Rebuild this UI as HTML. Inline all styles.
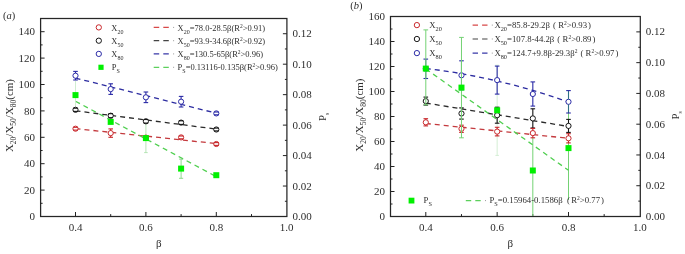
<!DOCTYPE html><html><head><meta charset="utf-8"><style>html,body{margin:0;padding:0;background:#fff;overflow:hidden;}svg{display:block;font-family:'Liberation Serif', serif;filter:blur(0.35px);}</style></head><body>
<svg width="685" height="254" viewBox="0 0 685 254" fill="#2e2e2e">
<rect x="40.6" y="18.5" width="246.3" height="198" fill="none" stroke="#262626" stroke-width="1.25"/>
<line x1="40.6" y1="203.3" x2="42.6" y2="203.3" stroke="#222" stroke-width="1"/>
<line x1="40.6" y1="190.1" x2="44.6" y2="190.1" stroke="#222" stroke-width="1"/>
<line x1="40.6" y1="176.9" x2="42.6" y2="176.9" stroke="#222" stroke-width="1"/>
<line x1="40.6" y1="163.7" x2="44.6" y2="163.7" stroke="#222" stroke-width="1"/>
<line x1="40.6" y1="150.5" x2="42.6" y2="150.5" stroke="#222" stroke-width="1"/>
<line x1="40.6" y1="137.3" x2="44.6" y2="137.3" stroke="#222" stroke-width="1"/>
<line x1="40.6" y1="124.1" x2="42.6" y2="124.1" stroke="#222" stroke-width="1"/>
<line x1="40.6" y1="110.9" x2="44.6" y2="110.9" stroke="#222" stroke-width="1"/>
<line x1="40.6" y1="97.7" x2="42.6" y2="97.7" stroke="#222" stroke-width="1"/>
<line x1="40.6" y1="84.5" x2="44.6" y2="84.5" stroke="#222" stroke-width="1"/>
<line x1="40.6" y1="71.3" x2="42.6" y2="71.3" stroke="#222" stroke-width="1"/>
<line x1="40.6" y1="58.1" x2="44.6" y2="58.1" stroke="#222" stroke-width="1"/>
<line x1="40.6" y1="44.9" x2="42.6" y2="44.9" stroke="#222" stroke-width="1"/>
<line x1="40.6" y1="31.7" x2="44.6" y2="31.7" stroke="#222" stroke-width="1"/>
<text x="35.1" y="220.1" text-anchor="end" font-size="11">0</text>
<text x="35.1" y="193.7" text-anchor="end" font-size="11">20</text>
<text x="35.1" y="167.3" text-anchor="end" font-size="11">40</text>
<text x="35.1" y="140.9" text-anchor="end" font-size="11">60</text>
<text x="35.1" y="114.5" text-anchor="end" font-size="11">80</text>
<text x="35.1" y="88.1" text-anchor="end" font-size="11">100</text>
<text x="35.1" y="61.7" text-anchor="end" font-size="11">120</text>
<text x="35.1" y="35.3" text-anchor="end" font-size="11">140</text>
<line x1="286.9" y1="201.27" x2="284.9" y2="201.27" stroke="#222" stroke-width="1"/>
<line x1="286.9" y1="186.04" x2="282.9" y2="186.04" stroke="#222" stroke-width="1"/>
<line x1="286.9" y1="170.81" x2="284.9" y2="170.81" stroke="#222" stroke-width="1"/>
<line x1="286.9" y1="155.58" x2="282.9" y2="155.58" stroke="#222" stroke-width="1"/>
<line x1="286.9" y1="140.35" x2="284.9" y2="140.35" stroke="#222" stroke-width="1"/>
<line x1="286.9" y1="125.12" x2="282.9" y2="125.12" stroke="#222" stroke-width="1"/>
<line x1="286.9" y1="109.88" x2="284.9" y2="109.88" stroke="#222" stroke-width="1"/>
<line x1="286.9" y1="94.65" x2="282.9" y2="94.65" stroke="#222" stroke-width="1"/>
<line x1="286.9" y1="79.42" x2="284.9" y2="79.42" stroke="#222" stroke-width="1"/>
<line x1="286.9" y1="64.19" x2="282.9" y2="64.19" stroke="#222" stroke-width="1"/>
<line x1="286.9" y1="48.96" x2="284.9" y2="48.96" stroke="#222" stroke-width="1"/>
<line x1="286.9" y1="33.73" x2="282.9" y2="33.73" stroke="#222" stroke-width="1"/>
<text x="292.4" y="220.1" font-size="11">0.00</text>
<text x="292.4" y="189.64" font-size="11">0.02</text>
<text x="292.4" y="159.18" font-size="11">0.04</text>
<text x="292.4" y="128.72" font-size="11">0.06</text>
<text x="292.4" y="98.25" font-size="11">0.08</text>
<text x="292.4" y="67.79" font-size="11">0.10</text>
<text x="292.4" y="37.33" font-size="11">0.12</text>
<line x1="75.5" y1="216.5" x2="75.5" y2="212" stroke="#222" stroke-width="1"/>
<line x1="110.7" y1="216.5" x2="110.7" y2="214.1" stroke="#222" stroke-width="1"/>
<line x1="145.9" y1="216.5" x2="145.9" y2="212" stroke="#222" stroke-width="1"/>
<line x1="181.1" y1="216.5" x2="181.1" y2="214.1" stroke="#222" stroke-width="1"/>
<line x1="216.3" y1="216.5" x2="216.3" y2="212" stroke="#222" stroke-width="1"/>
<line x1="251.5" y1="216.5" x2="251.5" y2="214.1" stroke="#222" stroke-width="1"/>
<text x="75.5" y="230.5" text-anchor="middle" font-size="11">0.4</text>
<text x="145.9" y="230.5" text-anchor="middle" font-size="11">0.6</text>
<text x="216.3" y="230.5" text-anchor="middle" font-size="11">0.8</text>
<text x="286.7" y="230.5" text-anchor="middle" font-size="11">1.0</text>
<path d="M75.5 110.8 L216.3 129.1" fill="none" stroke="#2a2a2a" stroke-width="1.3" stroke-dasharray="5 4"/>
<path d="M75.5 128.6 L216.3 143.6" fill="none" stroke="#c43a3e" stroke-width="1.3" stroke-dasharray="5 4"/>
<path d="M75.5 78.1 L216.3 113.2" fill="none" stroke="#2c2ca0" stroke-width="1.3" stroke-dasharray="5 4"/>
<path d="M75.5 101.3 L216.3 176.6" fill="none" stroke="#4fcf4f" stroke-width="1.3" stroke-dasharray="5 4"/>
<line x1="75.5" y1="81" x2="75.5" y2="109" stroke="#c4eac4" stroke-width="0.8"/>
<line x1="145.9" y1="123" x2="145.9" y2="152.6" stroke="#a6dea6" stroke-width="0.8"/><line x1="144.1" y1="123" x2="147.7" y2="123" stroke="#a6dea6" stroke-width="0.8"/><line x1="144.1" y1="152.6" x2="147.7" y2="152.6" stroke="#a6dea6" stroke-width="0.8"/>
<line x1="181.1" y1="159.1" x2="181.1" y2="178.3" stroke="#74d274" stroke-width="0.8"/><line x1="179" y1="159.1" x2="183.2" y2="159.1" stroke="#74d274" stroke-width="0.8"/><line x1="179" y1="178.3" x2="183.2" y2="178.3" stroke="#74d274" stroke-width="0.8"/>
<circle cx="75.5" cy="75.7" r="2.6" fill="#fff" stroke="#2a2aa6" stroke-width="1"/><line x1="75.5" y1="71.4" x2="75.5" y2="73.1" stroke="#2a2aa6" stroke-width="1.1"/><line x1="75.5" y1="78.3" x2="75.5" y2="80" stroke="#2a2aa6" stroke-width="1.1"/><line x1="73.2" y1="71.4" x2="77.8" y2="71.4" stroke="#2a2aa6" stroke-width="1.1"/><line x1="73.2" y1="80" x2="77.8" y2="80" stroke="#2a2aa6" stroke-width="1.1"/>
<circle cx="110.7" cy="89.1" r="2.6" fill="#fff" stroke="#2a2aa6" stroke-width="1"/><line x1="110.7" y1="83.8" x2="110.7" y2="86.5" stroke="#2a2aa6" stroke-width="1.1"/><line x1="110.7" y1="91.7" x2="110.7" y2="94.4" stroke="#2a2aa6" stroke-width="1.1"/><line x1="108.4" y1="83.8" x2="113" y2="83.8" stroke="#2a2aa6" stroke-width="1.1"/><line x1="108.4" y1="94.4" x2="113" y2="94.4" stroke="#2a2aa6" stroke-width="1.1"/>
<circle cx="145.9" cy="97.3" r="2.6" fill="#fff" stroke="#2a2aa6" stroke-width="1"/><line x1="145.9" y1="92" x2="145.9" y2="94.7" stroke="#2a2aa6" stroke-width="1.1"/><line x1="145.9" y1="99.9" x2="145.9" y2="102.6" stroke="#2a2aa6" stroke-width="1.1"/><line x1="143.6" y1="92" x2="148.2" y2="92" stroke="#2a2aa6" stroke-width="1.1"/><line x1="143.6" y1="102.6" x2="148.2" y2="102.6" stroke="#2a2aa6" stroke-width="1.1"/>
<circle cx="181.1" cy="101.7" r="2.6" fill="#fff" stroke="#2a2aa6" stroke-width="1"/><line x1="181.1" y1="96.4" x2="181.1" y2="99.1" stroke="#2a2aa6" stroke-width="1.1"/><line x1="181.1" y1="104.3" x2="181.1" y2="107" stroke="#2a2aa6" stroke-width="1.1"/><line x1="178.8" y1="96.4" x2="183.4" y2="96.4" stroke="#2a2aa6" stroke-width="1.1"/><line x1="178.8" y1="107" x2="183.4" y2="107" stroke="#2a2aa6" stroke-width="1.1"/>
<circle cx="216.3" cy="113.4" r="2.6" fill="#fff" stroke="#2a2aa6" stroke-width="1"/><line x1="214" y1="112" x2="218.6" y2="112" stroke="#2a2aa6" stroke-width="1.1"/><line x1="214" y1="114.8" x2="218.6" y2="114.8" stroke="#2a2aa6" stroke-width="1.1"/>
<circle cx="75.5" cy="109.8" r="2.6" fill="#fff" stroke="#141414" stroke-width="1"/><line x1="73.2" y1="108.2" x2="77.8" y2="108.2" stroke="#141414" stroke-width="1.1"/><line x1="73.2" y1="111.4" x2="77.8" y2="111.4" stroke="#141414" stroke-width="1.1"/>
<circle cx="110.7" cy="115.7" r="2.6" fill="#fff" stroke="#141414" stroke-width="1"/><line x1="108.4" y1="113.7" x2="113" y2="113.7" stroke="#141414" stroke-width="1.1"/><line x1="108.4" y1="117.7" x2="113" y2="117.7" stroke="#141414" stroke-width="1.1"/>
<circle cx="145.9" cy="121.3" r="2.6" fill="#fff" stroke="#141414" stroke-width="1"/><line x1="143.6" y1="119.5" x2="148.2" y2="119.5" stroke="#141414" stroke-width="1.1"/><line x1="143.6" y1="123.1" x2="148.2" y2="123.1" stroke="#141414" stroke-width="1.1"/>
<circle cx="181.1" cy="122.6" r="2.6" fill="#fff" stroke="#141414" stroke-width="1"/><line x1="178.8" y1="120.8" x2="183.4" y2="120.8" stroke="#141414" stroke-width="1.1"/><line x1="178.8" y1="124.4" x2="183.4" y2="124.4" stroke="#141414" stroke-width="1.1"/>
<circle cx="216.3" cy="129.5" r="2.6" fill="#fff" stroke="#141414" stroke-width="1"/><line x1="214" y1="128.1" x2="218.6" y2="128.1" stroke="#141414" stroke-width="1.1"/><line x1="214" y1="130.9" x2="218.6" y2="130.9" stroke="#141414" stroke-width="1.1"/>
<circle cx="75.5" cy="128.7" r="2.6" fill="#fff" stroke="#c8262a" stroke-width="1"/><line x1="73.2" y1="127.3" x2="77.8" y2="127.3" stroke="#c8262a" stroke-width="1.1"/><line x1="73.2" y1="130.1" x2="77.8" y2="130.1" stroke="#c8262a" stroke-width="1.1"/>
<circle cx="110.7" cy="133.1" r="2.6" fill="#fff" stroke="#c8262a" stroke-width="1"/><line x1="110.7" y1="128.9" x2="110.7" y2="130.5" stroke="#c8262a" stroke-width="1.1"/><line x1="110.7" y1="135.7" x2="110.7" y2="137.3" stroke="#c8262a" stroke-width="1.1"/><line x1="108.4" y1="128.9" x2="113" y2="128.9" stroke="#c8262a" stroke-width="1.1"/><line x1="108.4" y1="137.3" x2="113" y2="137.3" stroke="#c8262a" stroke-width="1.1"/>
<circle cx="145.9" cy="137.6" r="2.6" fill="#fff" stroke="#c8262a" stroke-width="1"/><line x1="143.6" y1="136.1" x2="148.2" y2="136.1" stroke="#c8262a" stroke-width="1.1"/><line x1="143.6" y1="139.1" x2="148.2" y2="139.1" stroke="#c8262a" stroke-width="1.1"/>
<circle cx="181.1" cy="137.4" r="2.6" fill="#fff" stroke="#c8262a" stroke-width="1"/><line x1="178.8" y1="136" x2="183.4" y2="136" stroke="#c8262a" stroke-width="1.1"/><line x1="178.8" y1="138.8" x2="183.4" y2="138.8" stroke="#c8262a" stroke-width="1.1"/>
<circle cx="216.3" cy="144" r="2.6" fill="#fff" stroke="#c8262a" stroke-width="1"/><line x1="214" y1="142.6" x2="218.6" y2="142.6" stroke="#c8262a" stroke-width="1.1"/><line x1="214" y1="145.4" x2="218.6" y2="145.4" stroke="#c8262a" stroke-width="1.1"/>
<rect x="72.5" y="92.1" width="6" height="6" fill="#00f000"/>
<rect x="107.7" y="118.9" width="6" height="6" fill="#00f000"/>
<rect x="142.9" y="135.1" width="6" height="6" fill="#00f000"/>
<rect x="178.1" y="165.6" width="6" height="6" fill="#00f000"/>
<rect x="213.3" y="172.2" width="6" height="6" fill="#00f000"/>
<circle cx="98.8" cy="27.4" r="2.65" fill="#fff" stroke="#c8262a" stroke-width="1"/>
<circle cx="98.8" cy="40.7" r="2.65" fill="#fff" stroke="#141414" stroke-width="1"/>
<circle cx="98.8" cy="53.9" r="2.65" fill="#fff" stroke="#2a2aa6" stroke-width="1"/>
<rect x="98.4" y="64.7" width="5.2" height="5.2" fill="#00f000"/>
<text x="111.3" y="30.5" font-size="8.5">X<tspan font-size="6" baseline-shift="-2.8">20</tspan></text>
<text x="111.3" y="43.8" font-size="8.5">X<tspan font-size="6" baseline-shift="-2.8">50</tspan></text>
<text x="111.3" y="57.0" font-size="8.5">X<tspan font-size="6" baseline-shift="-2.8">80</tspan></text>
<text x="111.8" y="70.2" font-size="8.5">P<tspan font-size="6" baseline-shift="-2.8">S</tspan></text>
<line x1="153.7" y1="27.4" x2="169" y2="27.4" stroke="#d84848" stroke-width="1.2" stroke-dasharray="5.5 4.1"/>
<rect x="173.1" y="26.9" width="1" height="1" fill="#999"/>
<text x="177.6" y="30.5" font-size="8.5">X<tspan font-size="6" baseline-shift="-2.8">20</tspan>=78.0-28.5β(R<tspan font-size="5.5" baseline-shift="3.2">2</tspan>&gt;0.91)</text>
<line x1="153.7" y1="40.7" x2="169" y2="40.7" stroke="#444" stroke-width="1.2" stroke-dasharray="5.5 4.1"/>
<rect x="173.1" y="40.2" width="1" height="1" fill="#999"/>
<text x="177.6" y="43.8" font-size="8.5">X<tspan font-size="6" baseline-shift="-2.8">50</tspan>=93.9-34.6β(R<tspan font-size="5.5" baseline-shift="3.2">2</tspan>&gt;0.92)</text>
<line x1="153.7" y1="53.9" x2="169" y2="53.9" stroke="#3838a8" stroke-width="1.2" stroke-dasharray="5.5 4.1"/>
<rect x="173.1" y="53.4" width="1" height="1" fill="#999"/>
<text x="177.6" y="57.0" font-size="8.5">X<tspan font-size="6" baseline-shift="-2.8">80</tspan>=130.5-65β(R<tspan font-size="5.5" baseline-shift="3.2">2</tspan>&gt;0.96)</text>
<line x1="153.7" y1="67.3" x2="169" y2="67.3" stroke="#5cd05c" stroke-width="1.2" stroke-dasharray="5.5 4.1"/>
<rect x="173.1" y="66.8" width="1" height="1" fill="#999"/>
<text x="177.6" y="70.2" font-size="8.5">P<tspan font-size="6" baseline-shift="-2.8">S</tspan>=0.13116-0.135β(R<tspan font-size="5.5" baseline-shift="3.2">2</tspan>&gt;0.96)</text>
<text x="3" y="19.1" font-size="10.5">(<tspan font-style="italic">a</tspan>)</text>
<text transform="translate(13.3 115.6) rotate(-90)" text-anchor="middle" font-size="10.9">X<tspan font-size="7.6" dy="2.6">20</tspan><tspan dy="-2.6">/X</tspan><tspan font-size="7.6" dy="2.6">50</tspan><tspan dy="-2.6">/X</tspan><tspan font-size="7.6" dy="2.6">80</tspan><tspan dy="-2.6">(cm)</tspan></text>
<text transform="translate(326.3 121) rotate(-90)" font-size="10.9">P<tspan font-size="6" dy="2.5">s</tspan></text>
<text x="158.8" y="247" text-anchor="middle" font-size="11">β</text>
<rect x="390.5" y="16.5" width="249.8" height="200" fill="none" stroke="#262626" stroke-width="1.25"/>
<line x1="390.5" y1="204" x2="392.5" y2="204" stroke="#222" stroke-width="1"/>
<line x1="390.5" y1="191.5" x2="394.5" y2="191.5" stroke="#222" stroke-width="1"/>
<line x1="390.5" y1="179" x2="392.5" y2="179" stroke="#222" stroke-width="1"/>
<line x1="390.5" y1="166.5" x2="394.5" y2="166.5" stroke="#222" stroke-width="1"/>
<line x1="390.5" y1="154" x2="392.5" y2="154" stroke="#222" stroke-width="1"/>
<line x1="390.5" y1="141.5" x2="394.5" y2="141.5" stroke="#222" stroke-width="1"/>
<line x1="390.5" y1="129" x2="392.5" y2="129" stroke="#222" stroke-width="1"/>
<line x1="390.5" y1="116.5" x2="394.5" y2="116.5" stroke="#222" stroke-width="1"/>
<line x1="390.5" y1="104" x2="392.5" y2="104" stroke="#222" stroke-width="1"/>
<line x1="390.5" y1="91.5" x2="394.5" y2="91.5" stroke="#222" stroke-width="1"/>
<line x1="390.5" y1="79" x2="392.5" y2="79" stroke="#222" stroke-width="1"/>
<line x1="390.5" y1="66.5" x2="394.5" y2="66.5" stroke="#222" stroke-width="1"/>
<line x1="390.5" y1="54" x2="392.5" y2="54" stroke="#222" stroke-width="1"/>
<line x1="390.5" y1="41.5" x2="394.5" y2="41.5" stroke="#222" stroke-width="1"/>
<line x1="390.5" y1="29" x2="392.5" y2="29" stroke="#222" stroke-width="1"/>
<text x="385.0" y="220.1" text-anchor="end" font-size="11">0</text>
<text x="385.0" y="195.1" text-anchor="end" font-size="11">20</text>
<text x="385.0" y="170.1" text-anchor="end" font-size="11">40</text>
<text x="385.0" y="145.1" text-anchor="end" font-size="11">60</text>
<text x="385.0" y="120.1" text-anchor="end" font-size="11">80</text>
<text x="385.0" y="95.1" text-anchor="end" font-size="11">100</text>
<text x="385.0" y="70.1" text-anchor="end" font-size="11">120</text>
<text x="385.0" y="45.1" text-anchor="end" font-size="11">140</text>
<text x="385.0" y="20.1" text-anchor="end" font-size="11">160</text>
<line x1="640.3" y1="201.12" x2="638.3" y2="201.12" stroke="#222" stroke-width="1"/>
<line x1="640.3" y1="185.73" x2="636.3" y2="185.73" stroke="#222" stroke-width="1"/>
<line x1="640.3" y1="170.35" x2="638.3" y2="170.35" stroke="#222" stroke-width="1"/>
<line x1="640.3" y1="154.96" x2="636.3" y2="154.96" stroke="#222" stroke-width="1"/>
<line x1="640.3" y1="139.58" x2="638.3" y2="139.58" stroke="#222" stroke-width="1"/>
<line x1="640.3" y1="124.19" x2="636.3" y2="124.19" stroke="#222" stroke-width="1"/>
<line x1="640.3" y1="108.81" x2="638.3" y2="108.81" stroke="#222" stroke-width="1"/>
<line x1="640.3" y1="93.42" x2="636.3" y2="93.42" stroke="#222" stroke-width="1"/>
<line x1="640.3" y1="78.04" x2="638.3" y2="78.04" stroke="#222" stroke-width="1"/>
<line x1="640.3" y1="62.65" x2="636.3" y2="62.65" stroke="#222" stroke-width="1"/>
<line x1="640.3" y1="47.27" x2="638.3" y2="47.27" stroke="#222" stroke-width="1"/>
<line x1="640.3" y1="31.88" x2="636.3" y2="31.88" stroke="#222" stroke-width="1"/>
<text x="645.8" y="220.1" font-size="11">0.00</text>
<text x="645.8" y="189.33" font-size="11">0.02</text>
<text x="645.8" y="158.56" font-size="11">0.04</text>
<text x="645.8" y="127.79" font-size="11">0.06</text>
<text x="645.8" y="97.02" font-size="11">0.08</text>
<text x="645.8" y="66.25" font-size="11">0.10</text>
<text x="645.8" y="35.48" font-size="11">0.12</text>
<line x1="425.8" y1="216.5" x2="425.8" y2="212" stroke="#222" stroke-width="1"/>
<line x1="461.48" y1="216.5" x2="461.48" y2="214.1" stroke="#222" stroke-width="1"/>
<line x1="497.15" y1="216.5" x2="497.15" y2="212" stroke="#222" stroke-width="1"/>
<line x1="532.82" y1="216.5" x2="532.82" y2="214.1" stroke="#222" stroke-width="1"/>
<line x1="568.5" y1="216.5" x2="568.5" y2="212" stroke="#222" stroke-width="1"/>
<line x1="604.17" y1="216.5" x2="604.17" y2="214.1" stroke="#222" stroke-width="1"/>
<text x="425.8" y="230.5" text-anchor="middle" font-size="11">0.4</text>
<text x="497.15" y="230.5" text-anchor="middle" font-size="11">0.6</text>
<text x="568.5" y="230.5" text-anchor="middle" font-size="11">0.8</text>
<text x="639.85" y="230.5" text-anchor="middle" font-size="11">1.0</text>
<line x1="532.82" y1="138" x2="532.82" y2="216" stroke="#74d274" stroke-width="1"/>
<line x1="568.5" y1="95.8" x2="568.5" y2="200" stroke="#74d274" stroke-width="1"/>
<line x1="497.15" y1="65.2" x2="497.15" y2="155.4" stroke="#d4eed4" stroke-width="1"/><line x1="495.4" y1="65.2" x2="498.9" y2="65.2" stroke="#d4eed4" stroke-width="1"/><line x1="495.4" y1="155.4" x2="498.9" y2="155.4" stroke="#d4eed4" stroke-width="1"/>
<path d="M425.8 103 L568.5 126.5" fill="none" stroke="#2a2a2a" stroke-width="1.3" stroke-dasharray="5 4"/>
<path d="M425.8 123.5 L568.5 138.3" fill="none" stroke="#c43a3e" stroke-width="1.3" stroke-dasharray="5 4"/>
<path d="M425.8 68.5 L432.94 69.37 L440.07 70.32 L447.2 71.36 L454.34 72.48 L461.48 73.69 L468.61 74.98 L475.75 76.36 L482.88 77.82 L490.01 79.37 L497.15 81 L504.29 82.72 L511.42 84.52 L518.56 86.41 L525.69 88.38 L532.83 90.44 L539.96 92.58 L547.1 94.81 L554.23 97.12 L561.37 99.52 L568.5 102" fill="none" stroke="#2c2ca0" stroke-width="1.3" stroke-dasharray="5 4"/>
<path d="M425.8 68.9 L568.5 170.3" fill="none" stroke="#4fcf4f" stroke-width="1.3" stroke-dasharray="5 4"/>
<circle cx="425.8" cy="68.8" r="2.6" fill="#fff" stroke="#2a2aa6" stroke-width="1"/><line x1="425.8" y1="59.1" x2="425.8" y2="66.2" stroke="#2f6f86" stroke-width="1.1"/><line x1="425.8" y1="71.4" x2="425.8" y2="78.5" stroke="#2f6f86" stroke-width="1.1"/><line x1="423.5" y1="59.1" x2="428.1" y2="59.1" stroke="#2a2aa6" stroke-width="1.1"/><line x1="423.5" y1="78.5" x2="428.1" y2="78.5" stroke="#2a2aa6" stroke-width="1.1"/>
<circle cx="461.48" cy="75.3" r="2.6" fill="#fff" stroke="#2a2aa6" stroke-width="1"/><line x1="461.48" y1="60.8" x2="461.48" y2="72.7" stroke="#2f6f86" stroke-width="1.1"/><line x1="461.48" y1="77.9" x2="461.48" y2="89.8" stroke="#2f6f86" stroke-width="1.1"/><line x1="459.18" y1="60.8" x2="463.78" y2="60.8" stroke="#2a2aa6" stroke-width="1.1"/><line x1="459.18" y1="89.8" x2="463.78" y2="89.8" stroke="#2a2aa6" stroke-width="1.1"/>
<circle cx="497.15" cy="80.1" r="2.6" fill="#fff" stroke="#2a2aa6" stroke-width="1"/><line x1="497.15" y1="66.1" x2="497.15" y2="77.5" stroke="#2a2aa6" stroke-width="1.1"/><line x1="497.15" y1="82.7" x2="497.15" y2="94.1" stroke="#2a2aa6" stroke-width="1.1"/><line x1="494.85" y1="66.1" x2="499.45" y2="66.1" stroke="#2a2aa6" stroke-width="1.1"/><line x1="494.85" y1="94.1" x2="499.45" y2="94.1" stroke="#2a2aa6" stroke-width="1.1"/>
<circle cx="532.82" cy="94" r="2.6" fill="#fff" stroke="#2a2aa6" stroke-width="1"/><line x1="532.82" y1="81.9" x2="532.82" y2="91.4" stroke="#2a2aa6" stroke-width="1.1"/><line x1="532.82" y1="96.6" x2="532.82" y2="106.1" stroke="#2a2aa6" stroke-width="1.1"/><line x1="530.52" y1="81.9" x2="535.12" y2="81.9" stroke="#2a2aa6" stroke-width="1.1"/><line x1="530.52" y1="106.1" x2="535.12" y2="106.1" stroke="#2a2aa6" stroke-width="1.1"/>
<circle cx="568.5" cy="101.8" r="2.6" fill="#fff" stroke="#2a2aa6" stroke-width="1"/><line x1="568.5" y1="90.6" x2="568.5" y2="99.2" stroke="#2f6f86" stroke-width="1.1"/><line x1="568.5" y1="104.4" x2="568.5" y2="113" stroke="#2f6f86" stroke-width="1.1"/><line x1="566.2" y1="90.6" x2="570.8" y2="90.6" stroke="#2a2aa6" stroke-width="1.1"/><line x1="566.2" y1="113" x2="570.8" y2="113" stroke="#2a2aa6" stroke-width="1.1"/>
<circle cx="425.8" cy="101.1" r="2.6" fill="#fff" stroke="#141414" stroke-width="1"/><line x1="425.8" y1="97.1" x2="425.8" y2="98.5" stroke="#141414" stroke-width="1.1"/><line x1="425.8" y1="103.7" x2="425.8" y2="105.1" stroke="#141414" stroke-width="1.1"/><line x1="423.5" y1="97.1" x2="428.1" y2="97.1" stroke="#141414" stroke-width="1.1"/><line x1="423.5" y1="105.1" x2="428.1" y2="105.1" stroke="#141414" stroke-width="1.1"/>
<circle cx="461.48" cy="113.5" r="2.6" fill="#fff" stroke="#141414" stroke-width="1"/><line x1="461.48" y1="107.9" x2="461.48" y2="110.9" stroke="#141414" stroke-width="1.1"/><line x1="461.48" y1="116.1" x2="461.48" y2="119.1" stroke="#141414" stroke-width="1.1"/><line x1="459.18" y1="107.9" x2="463.78" y2="107.9" stroke="#141414" stroke-width="1.1"/><line x1="459.18" y1="119.1" x2="463.78" y2="119.1" stroke="#141414" stroke-width="1.1"/>
<circle cx="497.15" cy="115.2" r="2.6" fill="#fff" stroke="#141414" stroke-width="1"/><line x1="497.15" y1="107.2" x2="497.15" y2="112.6" stroke="#141414" stroke-width="1.1"/><line x1="497.15" y1="117.8" x2="497.15" y2="123.2" stroke="#141414" stroke-width="1.1"/><line x1="494.85" y1="107.2" x2="499.45" y2="107.2" stroke="#141414" stroke-width="1.1"/><line x1="494.85" y1="123.2" x2="499.45" y2="123.2" stroke="#141414" stroke-width="1.1"/>
<circle cx="532.82" cy="118.4" r="2.6" fill="#fff" stroke="#141414" stroke-width="1"/><line x1="532.82" y1="108.8" x2="532.82" y2="115.8" stroke="#141414" stroke-width="1.1"/><line x1="532.82" y1="121" x2="532.82" y2="128" stroke="#141414" stroke-width="1.1"/><line x1="530.52" y1="108.8" x2="535.12" y2="108.8" stroke="#141414" stroke-width="1.1"/><line x1="530.52" y1="128" x2="535.12" y2="128" stroke="#141414" stroke-width="1.1"/>
<circle cx="568.5" cy="125.9" r="2.6" fill="#fff" stroke="#141414" stroke-width="1"/><line x1="568.5" y1="119.4" x2="568.5" y2="123.3" stroke="#141414" stroke-width="1.1"/><line x1="568.5" y1="128.5" x2="568.5" y2="132.4" stroke="#141414" stroke-width="1.1"/><line x1="566.2" y1="119.4" x2="570.8" y2="119.4" stroke="#141414" stroke-width="1.1"/><line x1="566.2" y1="132.4" x2="570.8" y2="132.4" stroke="#141414" stroke-width="1.1"/>
<circle cx="425.8" cy="122.3" r="2.6" fill="#fff" stroke="#c8262a" stroke-width="1"/><line x1="425.8" y1="118.7" x2="425.8" y2="119.7" stroke="#c8262a" stroke-width="1.1"/><line x1="425.8" y1="124.9" x2="425.8" y2="125.9" stroke="#c8262a" stroke-width="1.1"/><line x1="423.5" y1="118.7" x2="428.1" y2="118.7" stroke="#c8262a" stroke-width="1.1"/><line x1="423.5" y1="125.9" x2="428.1" y2="125.9" stroke="#c8262a" stroke-width="1.1"/>
<circle cx="461.48" cy="128.8" r="2.6" fill="#fff" stroke="#c8262a" stroke-width="1"/><line x1="461.48" y1="125.2" x2="461.48" y2="126.2" stroke="#c8262a" stroke-width="1.1"/><line x1="461.48" y1="131.4" x2="461.48" y2="132.4" stroke="#c8262a" stroke-width="1.1"/><line x1="459.18" y1="125.2" x2="463.78" y2="125.2" stroke="#c8262a" stroke-width="1.1"/><line x1="459.18" y1="132.4" x2="463.78" y2="132.4" stroke="#c8262a" stroke-width="1.1"/>
<circle cx="497.15" cy="131.6" r="2.6" fill="#fff" stroke="#c8262a" stroke-width="1"/><line x1="497.15" y1="127.3" x2="497.15" y2="129" stroke="#c8262a" stroke-width="1.1"/><line x1="497.15" y1="134.2" x2="497.15" y2="135.9" stroke="#c8262a" stroke-width="1.1"/><line x1="494.85" y1="127.3" x2="499.45" y2="127.3" stroke="#c8262a" stroke-width="1.1"/><line x1="494.85" y1="135.9" x2="499.45" y2="135.9" stroke="#c8262a" stroke-width="1.1"/>
<circle cx="532.82" cy="133.1" r="2.6" fill="#fff" stroke="#c8262a" stroke-width="1"/><line x1="532.82" y1="128.4" x2="532.82" y2="130.5" stroke="#c8262a" stroke-width="1.1"/><line x1="532.82" y1="135.7" x2="532.82" y2="137.8" stroke="#c8262a" stroke-width="1.1"/><line x1="530.52" y1="128.4" x2="535.12" y2="128.4" stroke="#c8262a" stroke-width="1.1"/><line x1="530.52" y1="137.8" x2="535.12" y2="137.8" stroke="#c8262a" stroke-width="1.1"/>
<circle cx="568.5" cy="138.3" r="2.6" fill="#fff" stroke="#c8262a" stroke-width="1"/><line x1="568.5" y1="133.7" x2="568.5" y2="135.7" stroke="#c8262a" stroke-width="1.1"/><line x1="568.5" y1="140.9" x2="568.5" y2="142.9" stroke="#c8262a" stroke-width="1.1"/><line x1="566.2" y1="133.7" x2="570.8" y2="133.7" stroke="#c8262a" stroke-width="1.1"/><line x1="566.2" y1="142.9" x2="570.8" y2="142.9" stroke="#c8262a" stroke-width="1.1"/>
<line x1="425.8" y1="29.9" x2="425.8" y2="104.8" stroke="#74d274" stroke-width="1"/><line x1="423.45" y1="29.9" x2="428.15" y2="29.9" stroke="#74d274" stroke-width="1"/><line x1="423.45" y1="104.8" x2="428.15" y2="104.8" stroke="#74d274" stroke-width="1"/>
<line x1="461.48" y1="37.4" x2="461.48" y2="137.8" stroke="#74d274" stroke-width="1"/><line x1="459.12" y1="37.4" x2="463.83" y2="37.4" stroke="#74d274" stroke-width="1"/><line x1="459.12" y1="137.8" x2="463.83" y2="137.8" stroke="#74d274" stroke-width="1"/>
<rect x="422.8" y="65.6" width="6" height="6" fill="#00f000"/>
<rect x="458.48" y="84.6" width="6" height="6" fill="#00f000"/>
<rect x="494.15" y="107.3" width="6" height="6" fill="#00f000"/>
<rect x="529.82" y="167.5" width="6" height="6" fill="#00f000"/>
<rect x="565.5" y="145.1" width="6" height="6" fill="#00f000"/>
<circle cx="416.9" cy="25.1" r="2.65" fill="#fff" stroke="#c8262a" stroke-width="1"/>
<circle cx="416.9" cy="39" r="2.65" fill="#fff" stroke="#141414" stroke-width="1"/>
<circle cx="416.9" cy="53.1" r="2.65" fill="#fff" stroke="#2a2aa6" stroke-width="1"/>
<rect x="408.6" y="197.7" width="5.8" height="5.8" fill="#00f000"/>
<text x="429.2" y="27.9" font-size="8.75">X<tspan font-size="6.3" baseline-shift="-2.8">20</tspan></text>
<text x="429.2" y="42.0" font-size="8.75">X<tspan font-size="6.3" baseline-shift="-2.8">50</tspan></text>
<text x="429.2" y="56.0" font-size="8.75">X<tspan font-size="6.3" baseline-shift="-2.8">80</tspan></text>
<text x="423.6" y="203.4" font-size="8.75">P<tspan font-size="6.3" baseline-shift="-2.8">S</tspan></text>
<line x1="472.6" y1="25.1" x2="487.6" y2="25.1" stroke="#d84848" stroke-width="1.2" stroke-dasharray="5.4 4.1"/>
<rect x="491.8" y="24.6" width="1" height="1" fill="#999"/>
<text x="494.40000000000003" y="27.9" font-size="8.75">X<tspan font-size="6.3" baseline-shift="-2.8">20</tspan>=85.8-29.2β<tspan dx="3">(</tspan><tspan dx="2.3">R</tspan><tspan font-size="5.5" baseline-shift="3.2">2</tspan>&gt;0.93<tspan dx="1">)</tspan></text>
<line x1="472.6" y1="39.0" x2="487.6" y2="39.0" stroke="#444" stroke-width="1.2" stroke-dasharray="5.4 4.1"/>
<rect x="491.8" y="38.5" width="1" height="1" fill="#999"/>
<text x="494.40000000000003" y="42.0" font-size="8.75">X<tspan font-size="6.3" baseline-shift="-2.8">50</tspan>=107.8-44.2β<tspan dx="3">(</tspan><tspan dx="2.3">R</tspan><tspan font-size="5.5" baseline-shift="3.2">2</tspan>&gt;0.89<tspan dx="1">)</tspan></text>
<line x1="472.6" y1="53.1" x2="487.6" y2="53.1" stroke="#3838a8" stroke-width="1.2" stroke-dasharray="5.4 4.1"/>
<rect x="491.8" y="52.6" width="1" height="1" fill="#999"/>
<text x="494.40000000000003" y="56.0" font-size="8.75">X<tspan font-size="6.3" baseline-shift="-2.8">80</tspan>=124.7+9.8β-29.3β<tspan font-size="5.5" baseline-shift="3.2">2</tspan><tspan dx="3">(</tspan><tspan dx="2.3">R</tspan><tspan font-size="5.5" baseline-shift="3.2">2</tspan>&gt;0.97<tspan dx="1">)</tspan></text>
<line x1="465.8" y1="200.6" x2="480.8" y2="200.6" stroke="#5cd05c" stroke-width="1.2" stroke-dasharray="5.4 4.1"/>
<rect x="485.0" y="200.1" width="1" height="1" fill="#999"/>
<text x="489.40000000000003" y="203.4" font-size="8.75">P<tspan font-size="6.3" baseline-shift="-2.8">S</tspan>=0.15964-0.1586β<tspan dx="4.5">(</tspan><tspan dx="1.2">R</tspan><tspan font-size="5.5" baseline-shift="3.2">2</tspan>&gt;0.77<tspan dx="1">)</tspan></text>
<text x="350.3" y="8.5" font-size="10.5">(<tspan font-style="italic">b</tspan>)</text>
<text transform="translate(363.3 115.2) rotate(-90)" text-anchor="middle" font-size="10.9">X<tspan font-size="7.6" dy="2.6">20</tspan><tspan dy="-2.6">/X</tspan><tspan font-size="7.6" dy="2.6">50</tspan><tspan dy="-2.6">/X</tspan><tspan font-size="7.6" dy="2.6">80</tspan><tspan dy="-2.6">(cm)</tspan></text>
<text transform="translate(679.3 119.5) rotate(-90)" font-size="10.9">P<tspan font-size="6" dy="2.5">s</tspan></text>
<text x="510.3" y="247" text-anchor="middle" font-size="11">β</text>
</svg></body></html>
